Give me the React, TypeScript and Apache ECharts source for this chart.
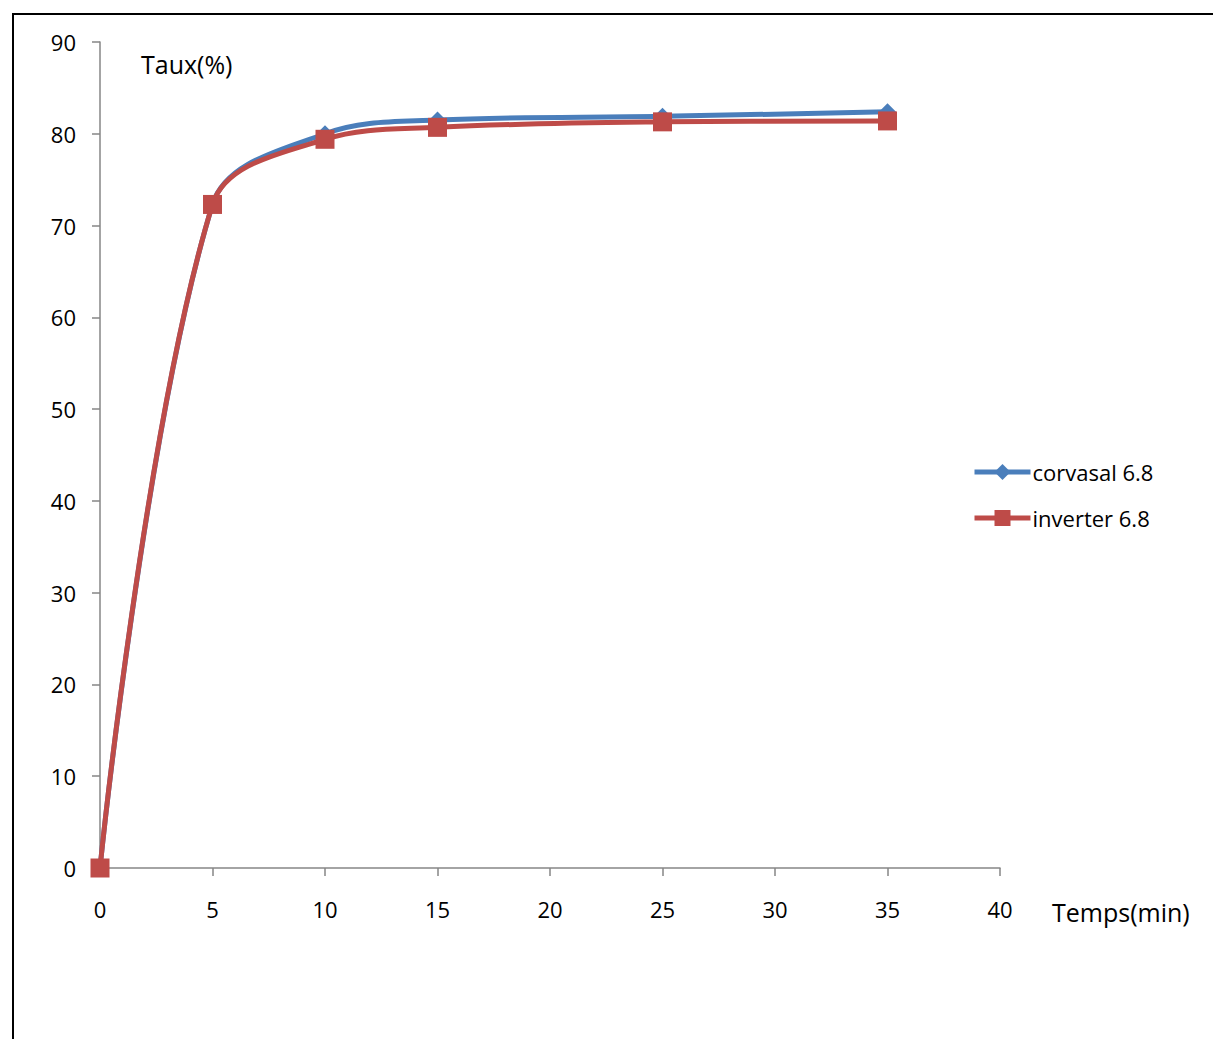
import React, { useEffect, useRef } from "react";
import * as echarts from "echarts";

const times = [0, 5, 10, 15, 25, 35];
const corvasal = [0, 72.3, 80.0, 81.5, 81.9, 82.4];
const inverter = [0, 72.3, 79.4, 80.7, 81.3, 81.4];
const seriesNames = ["corvasal 6.8", "inverter 6.8"];
const xName = "Temps(min)";
const yName = "Taux(%)";

const FONT = "'Open Sans', 'Noto Sans', sans-serif";

export default function App() {
  const ref = useRef<HTMLDivElement>(null);
  useEffect(() => {
    document.body.style.margin = "0";
    const chart = echarts.init(ref.current!, null, { renderer: "svg" });
    const pts = (ys: number[]) => times.map((t, i) => [t, ys[i]]);
    chart.setOption({
      animation: false,
      backgroundColor: "#ffffff",
      grid: { left: 100, right: 213, top: 42, bottom: 171, containLabel: false },
      legend: {
        orient: "vertical",
        left: 967,
        top: 456,
        itemWidth: 56,
        itemHeight: 20,
        itemGap: 24,
        lineStyle: { width: 5 },
        textStyle: { fontFamily: FONT, fontSize: 22, color: "#000", padding: [0, 0, 0, -3] },
        data: seriesNames,
      },
      xAxis: {
        type: "value",
        min: 0,
        max: 40,
        interval: 5,
        axisLine: { lineStyle: { color: "#868686", width: 1.5 } },
        axisTick: { inside: false, length: 8, lineStyle: { color: "#868686", width: 1.5 } },
        axisLabel: { margin: 30, fontFamily: FONT, fontSize: 22, color: "#000" },
        splitLine: { show: false },
      },
      yAxis: {
        type: "value",
        min: 0,
        max: 90,
        interval: 10,
        axisLine: { show: true, lineStyle: { color: "#868686", width: 1.5 } },
        axisTick: { show: true, inside: false, length: 8, lineStyle: { color: "#868686", width: 1.5 } },
        axisLabel: { margin: 24, fontFamily: FONT, fontSize: 22, color: "#000" },
        splitLine: { show: false },
      },
      graphic: [
        {
          type: "rect",
          shape: { x: 13, y: 14, width: 1400, height: 1200 },
          style: { fill: "none", stroke: "#000", lineWidth: 2 },
          silent: true,
        },
        {
          type: "text",
          x: 141,
          y: 64,
          style: { text: yName, font: `25px ${FONT}`, fill: "#000", verticalAlign: "middle" },
        },
        {
          type: "text",
          x: 1052,
          y: 912,
          style: { text: xName, font: `25px ${FONT}`, fill: "#000", verticalAlign: "middle" },
        },
      ],
      series: [
        {
          name: seriesNames[0],
          type: "line",
          data: pts(corvasal),
          smooth: 0.35,
          symbol: "diamond",
          symbolSize: 17,
          lineStyle: { color: "#4A7EBB", width: 5 },
          itemStyle: { color: "#4A7EBB" },
          z: 2,
        },
        {
          name: seriesNames[1],
          type: "line",
          data: pts(inverter),
          smooth: 0.35,
          symbol: "rect",
          symbolSize: 19,
          lineStyle: { color: "#BE4B48", width: 5 },
          itemStyle: { color: "#BE4B48" },
          z: 3,
        },
      ],
    });
    return () => chart.dispose();
  }, []);
  return <div ref={ref} style={{ width: 1213, height: 1039 }} />;
}
